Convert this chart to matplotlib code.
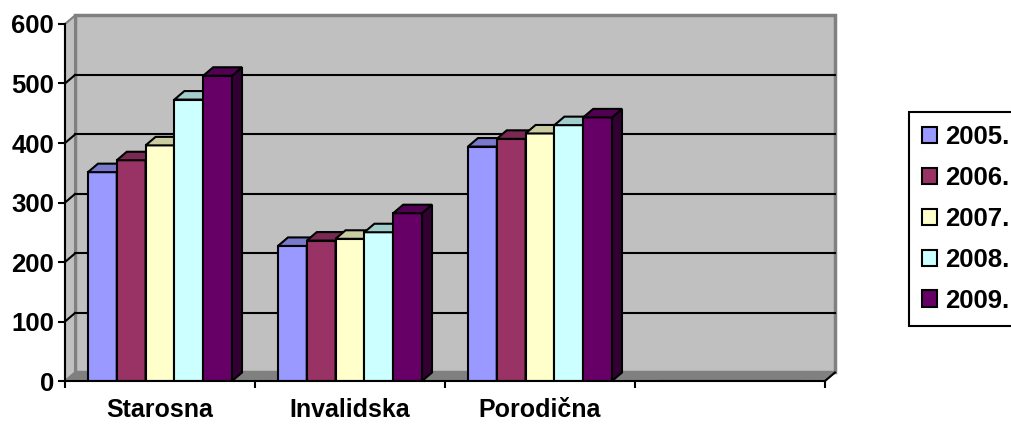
import numpy as np
import matplotlib
matplotlib.use("Agg")
from matplotlib import pyplot as plt
from matplotlib.patches import Polygon, Rectangle, Patch

plt.rcParams['font.family'] = ['Liberation Sans', 'DejaVu Sans']
plt.rcParams['font.weight'] = 'bold'

# podaci
kategorije = ['Starosna', 'Invalidska', 'Porodična', '']
godine = ['2005.', '2006.', '2007.', '2008.', '2009.']
v2005 = [351, 227, 394, 0]
v2006 = [371, 236, 407, 0]
v2007 = [396, 239, 416, 0]
v2008 = [473, 250, 430, 0]
v2009 = [513, 282, 443, 0]
boje = ['#9999FF', '#993366', '#FFFFCC', '#CCFFFF', '#660066']
yticks = [0, 100, 200, 300, 400, 500, 600]

serije = [v2005, v2006, v2007, v2008, v2009]


def tamnije(c, f):
    r, g, b = matplotlib.colors.to_rgb(c)
    return (r * f, g * f, b * f)


fig = plt.figure(figsize=(10.11, 4.24), dpi=100)
ax = fig.add_axes([0.0643, 0.1014, 0.7517, 0.842])
ax.set_xlim(0, 4)
ax.set_ylim(0, 600)
ax.patch.set_visible(False)

# dubina 3D efekta (u jedinicama podataka)
ddx = 10 / 190
ddy = 14.3

# zadnji zid
ax.add_patch(Rectangle((ddx, ddy), 4, 600, facecolor='#C0C0C0', edgecolor='#808080',
                       lw=2.5, clip_on=False, zorder=0.5))
# lijevi zid
ax.add_patch(Polygon([(0, 0), (ddx, ddy), (ddx, 600 + ddy), (0, 600)], closed=True,
                     facecolor='#C0C0C0', edgecolor='#808080', lw=1.5, clip_on=False, zorder=0.6))
# pod
ax.add_patch(Polygon([(0, 0), (4, 0), (4 + ddx, ddy), (ddx, ddy)], closed=True,
                     facecolor='#808080', edgecolor='#808080', lw=1, clip_on=False, zorder=0.7))
ax.plot([4, 4 + ddx], [0, ddy], color='black', lw=1.5, clip_on=False, zorder=0.8)

# mreza
for y in yticks[1:-1]:
    ax.plot([ddx, 4 + ddx], [y + ddy, y + ddy], color='black', lw=1.5, clip_on=False, zorder=1)
    ax.plot([0, ddx], [y, y + ddy], color='black', lw=1.5, clip_on=False, zorder=1)

# stupci
sirina_grupe = 0.758
w = sirina_grupe / len(serije)
x = np.arange(len(kategorije)) + 0.5 - sirina_grupe / 2
for i, (vals, c) in enumerate(zip(serije, boje)):
    xs = x + i * w
    z = 3 + i
    ax.bar(xs, vals, width=w, align='edge', color=c, edgecolor='black', lw=1.5, zorder=z)
    for xb, v in zip(xs, vals):
        if v <= 0:
            continue
        top = Polygon([(xb, v), (xb + w, v), (xb + w + ddx, v + ddy), (xb + ddx, v + ddy)],
                      closed=True, facecolor=tamnije(c, 0.8), edgecolor='black', lw=1.5,
                      zorder=z, clip_on=False)
        side = Polygon([(xb + w, 0), (xb + w + ddx, ddy), (xb + w + ddx, v + ddy), (xb + w, v)],
                       closed=True, facecolor=tamnije(c, 0.5), edgecolor='black', lw=1.5,
                       zorder=z, clip_on=False)
        ax.add_patch(side)
        ax.add_patch(top)

# osi
for s in ['top', 'right']:
    ax.spines[s].set_visible(False)
for s in ['left', 'bottom']:
    ax.spines[s].set_linewidth(1.5)
    ax.spines[s].set_zorder(20)

ax.set_yticks(yticks)
ax.tick_params(axis='y', length=5, width=1.5, pad=3, labelsize=18.5)
ax.set_xticks(np.arange(5))
ax.set_xticklabels([])
ax.tick_params(axis='x', which='major', length=5, width=1.5)
ax.set_xticks(np.arange(len(kategorije)) + 0.5, minor=True)
ax.set_xticklabels(kategorije, minor=True)
ax.tick_params(axis='x', which='minor', length=0, pad=12, labelsize=18)
for lbl in ax.get_yticklabels() + ax.get_xticklabels(minor=True):
    lbl.set_fontweight('bold')

# legenda
handles = [Patch(facecolor=c, edgecolor='black', lw=1.5) for c in boje]
leg = fig.legend(handles, godine, loc='upper left', bbox_to_anchor=(909 / 1011, 1 - 112 / 424),
                 borderaxespad=0, frameon=True, fancybox=False, framealpha=1,
                 edgecolor='black', prop={'size': 18.5, 'weight': 'bold'},
                 handlelength=0.6, handleheight=0.6, handletextpad=0.3,
                 labelspacing=0.66, borderpad=0.5)
leg.get_frame().set_linewidth(1.5)

plt.savefig('out.png', dpi=100)
